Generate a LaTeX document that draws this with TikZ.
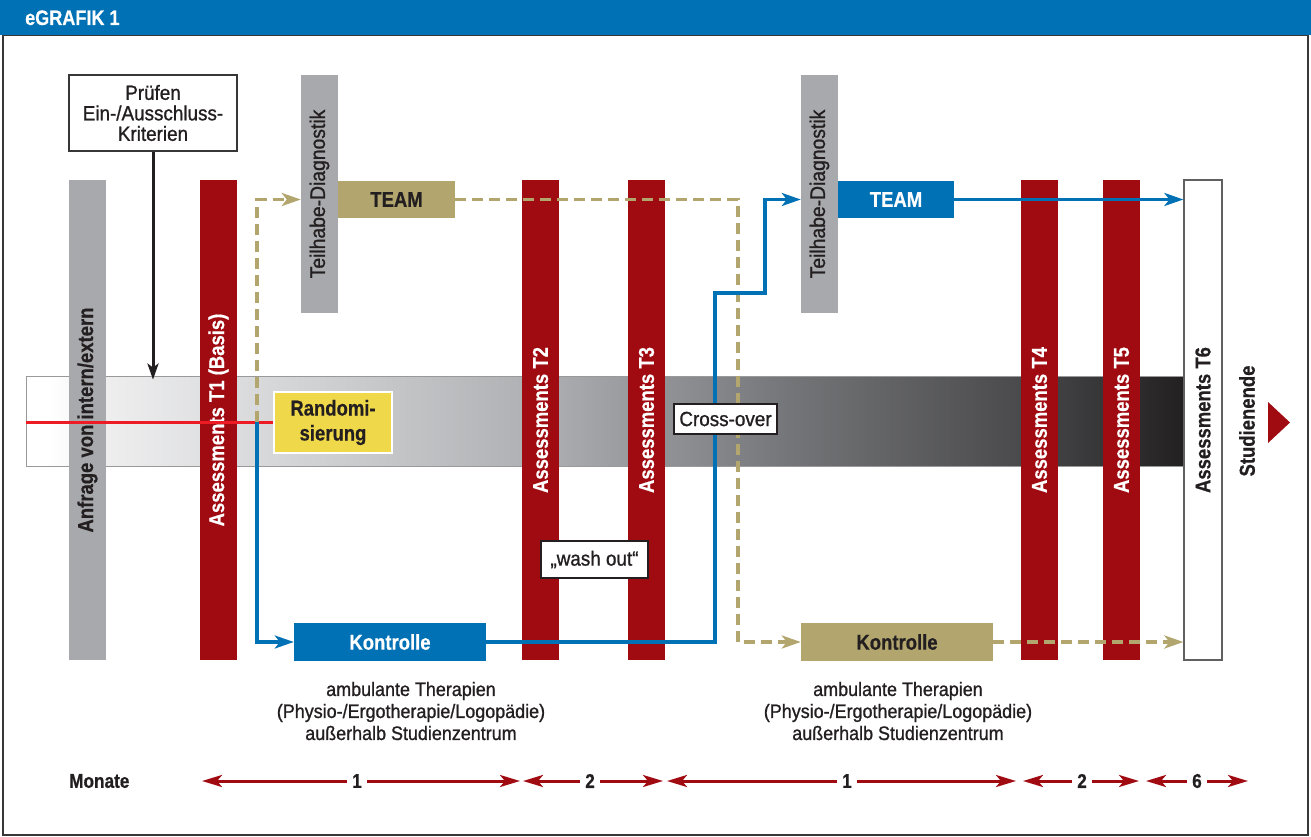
\documentclass[tikz,border=0pt]{standalone}
\usepackage{fontspec}
\setmainfont{Liberation Sans}[FakeStretch=0.86, BoldFeatures={FakeBold=0.5}]
\newfontfamily\regf{Liberation Sans}[FakeStretch=0.92, FakeBold=1.0]
\usetikzlibrary{arrows.meta}
\definecolor{hblue}{RGB}{0,113,180}
\definecolor{dred}{RGB}{160,11,18}
\definecolor{ggray}{RGB}{167,169,172}
\definecolor{gold}{RGB}{178,166,110}
\definecolor{ryellow}{RGB}{240,216,75}
\definecolor{txt}{RGB}{35,31,32}
\definecolor{rline}{RGB}{237,28,36}
\definecolor{frame}{RGB}{55,55,55}
\definecolor{ga}{RGB}{238,238,239}
\definecolor{gb}{RGB}{208,209,211}
\definecolor{gc}{RGB}{172,174,177}
\definecolor{gd}{RGB}{118,119,122}
\definecolor{ge}{RGB}{76,76,78}
\definecolor{gf}{RGB}{34,32,33}
\pgfdeclarehorizontalshading{barshade}{100bp}{color(0bp)=(white); color(25bp)=(white); color(26bp)=(white); color(28.5bp)=(ga); color(37.5bp)=(gb); color(47.5bp)=(gc); color(57.5bp)=(gd); color(67.5bp)=(ge); color(75bp)=(gf); color(100bp)=(gf)}
\tikzset{
  bf/.style={font=\bfseries\fontsize{21.5}{24}\selectfont},
  rg/.style={font=\regf\fontsize{20.5}{22}\selectfont},
  vbar/.style={rotate=90, minimum width=480pt, minimum height=37pt, inner sep=0pt, bf},
  tbar/.style={rotate=90, minimum width=238pt, minimum height=37pt, inner sep=0pt, fill=ggray, text=txt, font=\regf\fontsize{21}{22}\selectfont},
  hbox/.style={minimum width=117pt, minimum height=37pt, inner sep=0pt, bf},
  kbox/.style={minimum width=192pt, minimum height=38pt, inner sep=0pt, bf},
  wbox/.style={draw=txt, line width=1.2pt, fill=white, inner sep=0pt, rg, text=txt},
  bluearr/.style={draw=hblue, line width=3.2pt, -{Stealth[length=19pt,width=13pt,inset=5pt]}},
  goldarr/.style={draw=gold, line width=3.5pt, dash pattern=on 11pt off 6pt, -{Stealth[length=19pt,width=13pt,inset=5pt]}},
  marr/.style={draw=dred, line width=3pt, -{Stealth[length=20pt,width=12pt,inset=5pt]}},
  mlab/.style={text=txt, inner sep=5pt, font=\bfseries\fontsize{20}{22}\selectfont},
  btext/.style={text=txt, align=center, font=\regf\fontsize{19.5}{22}\selectfont}
}
\begin{document}
\begin{tikzpicture}[x=1pt,y=-1pt]
\useasboundingbox (0,0) rectangle (1311,837);
% frame and header
\draw[frame, line width=1.5pt] (3,35) rectangle (1308,835);
\fill[hblue] (0,0) rectangle (1311,35);
\node[anchor=base west, text=white, inner sep=0pt, font=\bfseries\fontsize{21}{22}\selectfont] (title) at (25,25) {eGRAFIK 1};
% gradient bar
\node[shade, shading=barshade, draw=gray!80, line width=0.8pt, minimum width=1159pt, minimum height=90pt, inner sep=0pt] (bar) at (605.5,421) {};
% vertical bars
\node[vbar, fill=ggray, text=txt] (anf) at (87.5,420) {Anfrage von intern/extern};
\node[vbar, fill=dred, text=white] (t1) at (218.5,420) {Assessments T1 (Basis)};
\node[vbar, fill=dred, text=white] (t2) at (540.5,420) {Assessments T2};
\node[vbar, fill=dred, text=white] (t3) at (646.5,420) {Assessments T3};
\node[vbar, fill=dred, text=white] (t4) at (1039.5,420) {Assessments T4};
\node[vbar, fill=dred, text=white] (t5) at (1121.5,420) {Assessments T5};
\node[vbar, fill=white, draw=gray!75!black, line width=1.2pt, text=txt, minimum height=38pt] (t6) at (1203,420) {Assessments T6};
\node[bf, rotate=90, text=txt, inner sep=0pt] (ende) at (1247,421) {Studienende};
\fill[dred] (1268,402) -- (1290,422.5) -- (1268,443) -- cycle;
% Teilhabe bars
\node[tbar] (teil1) at (319.5,194) {Teilhabe-Diagnostik};
\node[tbar] (teil2) at (819.5,194) {Teilhabe-Diagnostik};
% TEAM boxes
\node[hbox, fill=gold, text=txt] (team1) at (396.5,199.5) {TEAM};
\node[hbox, fill=hblue, text=white, minimum width=116pt] (team2) at (896,199.5) {TEAM};
% Kontrolle boxes
\node[kbox, fill=hblue, text=white] (kon1) at (390,642) {Kontrolle};
\node[kbox, fill=gold, text=txt] (kon2) at (897,642) {Kontrolle};
% Pruefen box
\node[draw=frame, line width=1.3pt, fill=white, minimum width=168pt, minimum height=76pt, inner sep=0pt, align=center, text=txt, font=\regf\fontsize{20.5}{20.5}\selectfont] (pruef) at (153,113) {Prüfen\\Ein-/Ausschluss-\\Kriterien};
\draw[txt, line width=3pt, -{Stealth[length=16pt,width=11pt,inset=4pt]}] (pruef.south) -- ([yshift=-4pt]pruef.south |- bar.north);
% split point
\coordinate (split) at (257,422);
% Randomisierung
\node[fill=ryellow, draw=white, line width=2pt, minimum width=118pt, minimum height=61pt, inner sep=0pt, align=center, text=txt, font=\bfseries\fontsize{21.5}{25}\selectfont] (rand) at (333,422.5) {Randomi-\\sierung};
\draw[rline, line width=3pt] (rand.west -| bar.west) -- (rand.west);
% connectors
\draw[goldarr] (split) |- (team1.west -| teil1.north);
\draw[bluearr] (split) |- (kon1.west);
\coordinate (g1) at (738,199);
\draw[goldarr] (team1.east) -- (team1.east -| g1) -- (kon2.west -| g1) -- (kon2.west);
\coordinate (b1) at (715,293);
\coordinate (b2) at (765,293);
\draw[bluearr] (kon1.east) -- (kon1.east -| b1) -- (b1) -- (b2) -- (b2 |- team2.west) -- (team2.west -| teil2.north);
\draw[bluearr] (team2.east) -- (team2.east -| t6.north);
\draw[goldarr] (kon2.east) -- (kon2.east -| t6.north);
% labels
\node[wbox, minimum width=103pt, minimum height=30pt] (cross) at (725.5,419) {Cross-over};
\node[wbox, minimum width=107pt, minimum height=37pt] (wash) at (594.5,559.5) {„wash out“};
% bottom texts
\node[btext] (amb1) at (411,711) {ambulante Therapien\\(Physio-/Ergotherapie/Logopädie)\\außerhalb Studienzentrum};
\node[btext] (amb2) at (898,711) {ambulante Therapien\\(Physio-/Ergotherapie/Logopädie)\\außerhalb Studienzentrum};
% Monate
\node[mlab, anchor=west, inner sep=0pt] (monate) at (69,781) {Monate};
\node[mlab] (m1) at (357,781) {1};
\node[mlab] (m2) at (590,781) {2};
\node[mlab] (m3) at (847,781) {1};
\node[mlab] (m4) at (1082,781) {2};
\node[mlab] (m5) at (1197,781) {6};
\coordinate (m1a) at (202,781); \coordinate (m1b) at (520,781);
\coordinate (m2a) at (523,781); \coordinate (m2b) at (663,781);
\coordinate (m3a) at (667,781); \coordinate (m3b) at (1016,781);
\coordinate (m4a) at (1023,781); \coordinate (m4b) at (1139,781);
\coordinate (m5a) at (1146,781); \coordinate (m5b) at (1248,781);
\foreach \m in {m1,m2,m3,m4,m5}{
  \draw[marr] (\m) -- (\m a);
  \draw[marr] (\m) -- (\m b);
}
\end{tikzpicture}
\end{document}
